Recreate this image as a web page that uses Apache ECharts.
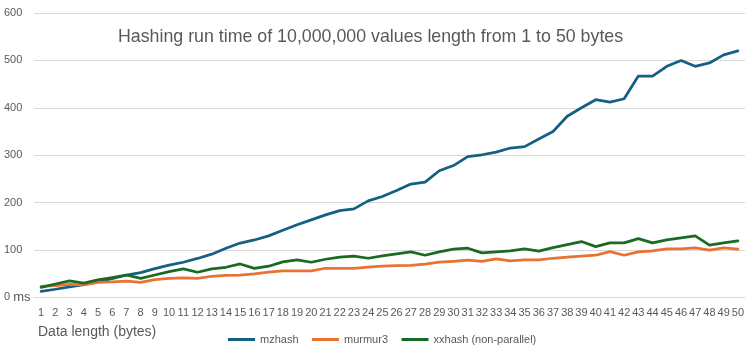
<!DOCTYPE html>
<html>
<head>
<meta charset="utf-8">
<script src="https://cdn.jsdelivr.net/npm/echarts@6/dist/echarts.min.js"></script>
<style>html,body{margin:0;padding:0;background:#fff}#c{width:753px;height:355px}</style>
</head>
<body>
<div id="c"></div>
<script>
const categories = Array.from({length: 50}, (_, i) => String(i + 1));
const mzhash = [12.7,17,22,26.5,33,39.5,47,52,60.5,68,
  74,82,91,103.5,114.5,121,129.6,141.6,153,163.4,
  174,183,186.7,203.6,212.7,225.4,239,243,267,278,
  297,300.8,306.5,315,318,334,350,382,400,417,
  412,419,467,467,487.5,499.6,487.5,494.6,511.6,520];
const murmur3 = [23,24.6,27.5,26,31.7,32.4,34,31.7,37.5,40,
  40.8,40,44.4,46.5,47,49.5,52.9,55.7,55.7,55.7,
  61.3,61.3,61.3,63.5,65.6,66.9,67.6,69.8,74,76,
  78.2,76,81,76.7,78.9,78.9,82.4,84.6,86.7,88.8,
  96.5,88.8,95.8,97.9,102,102,104.3,99.4,104.3,101.5];
const xxhash = [21,28,34.5,30,36.6,41.5,47,40,47,54,
  60,52.8,60,63.4,70.4,61,65.6,74.7,78.9,74,
  80.3,84.6,86.7,82.4,87.4,91.6,95.8,88.8,95.8,101.5,
  103.6,93.7,95.8,97.9,102,97.3,104.9,111.3,117.6,107,
  114.8,114.8,123.9,114.8,121,125.4,129.6,110,114.8,119];
const seriesNames = ['mzhash', 'murmur3', 'xxhash (non-parallel)'];
const yTickValues = [0, 100, 200, 300, 400, 500, 600];
const yTickLabels = ['0 {u|ms}', '100', '200', '300', '400', '500', '600'];
const titleText = 'Hashing run time of 10,000,000 values length from 1 to 50 bytes';
const xAxisTitle = 'Data length (bytes)';

const colors = ['#156082', '#E97132', '#196B24'];
const font = 'Liberation Sans, Arial, sans-serif';
const chart = echarts.init(document.getElementById('c'), null, {renderer: 'canvas'});
const mk = (name, data, i) => ({
  name, type: 'line', data, showSymbol: false, symbol: 'none', smooth: false,
  lineStyle: {width: 2.75, color: colors[i], cap: 'round', join: 'round'},
  itemStyle: {color: colors[i]}, animation: false
});
chart.setOption({
  animation: false,
  textStyle: {fontFamily: font},
  title: {
    text: titleText, left: 113, top: 23,
    textStyle: {fontSize: 17.8, fontWeight: 'normal', color: '#595959', fontFamily: font}
  },
  grid: {left: 34, right: 8, top: 13, bottom: 57.7, containLabel: false},
  legend: {
    data: seriesNames, left: 223, top: 329, itemWidth: 27, itemHeight: 3, itemGap: 13.5,
    icon: 'rect',
    textStyle: {fontSize: 11, color: '#595959', fontFamily: font}
  },
  xAxis: {
    type: 'category', data: categories, boundaryGap: true,
    name: xAxisTitle, nameLocation: 'start', nameGap: 0,
    nameTextStyle: {fontSize: 14, color: '#595959', align: 'left', verticalAlign: 'top', padding: [28, 0, 0, 4], fontFamily: font},
    axisLine: {show: true, lineStyle: {color: '#D9D9D9', width: 1}},
    axisTick: {show: false},
    axisLabel: {interval: 0, fontSize: 11, color: '#595959', margin: 10, fontFamily: font}
  },
  yAxis: {
    type: 'value', min: 0, max: 600, interval: 100,
    axisLine: {show: false}, axisTick: {show: false},
    axisLabel: {
      fontSize: 11, color: '#595959', align: 'left', margin: 30, fontFamily: font,
      rich: {u: {fontSize: 13, color: '#595959', fontFamily: font}},
      formatter: v => { const k = yTickValues.indexOf(v); return k >= 0 ? yTickLabels[k] : String(v); }
    },
    splitLine: {lineStyle: {color: '#D9D9D9', width: 1}}
  },
  series: [mk(seriesNames[0], mzhash, 0), mk(seriesNames[1], murmur3, 1), mk(seriesNames[2], xxhash, 2)]
});
</script>
</body>
</html>
